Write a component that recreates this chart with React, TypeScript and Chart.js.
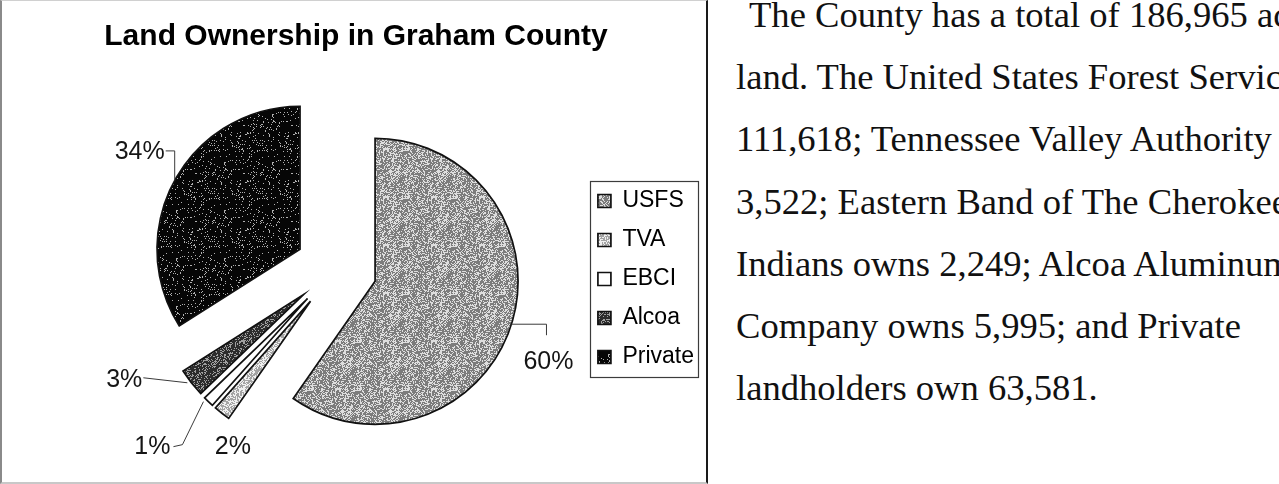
import React, { useEffect, useRef } from 'react';
import { Chart, ArcElement, PieController, registerables } from 'chart.js';

Chart.register(...registerables);

// ---------- data ----------
const chartTitle = 'Land Ownership in Graham County';
const categories = ['USFS', 'TVA', 'EBCI', 'Alcoa', 'Private'];
const acres = [111618, 3522, 2249, 5995, 63581];
const paragraphLines = [
  'The County has a total of 186,965 acres of',
  'land. The United States Forest Service owns',
  '111,618; Tennessee Valley Authority owns',
  '3,522; Eastern Band of The Cherokee',
  'Indians owns 2,249; Alcoa Aluminum',
  'Company owns 5,995; and Private',
  'landholders own 63,581.',
];

// ---------- styles ----------
// stipple textures: [base, dot, density]
const sliceTextures: [string, string, number][] = [
  ['#7c7c7c', '#dedede', 0.38],
  ['#a4a4a4', '#f0f0f0', 0.45],
  ['#ffffff', '#ffffff', 0],
  ['#2c2c2c', '#a0a0a0', 0.28],
  ['#060606', '#b0b0b0', 0.09],
];
// label placement relative to the outer mid point of each slice
const labelPlacement = [
  { dx: 37, dy: 38, align: 'center', leader: [[0, 0], [35, 0], [35, 11]] },
  { dx: 11, dy: 34, align: 'center', leader: [] },
  { dx: -38, dy: 45, align: 'right', leader: [[-5, 0], [-26, 43], [-35, 45]] },
  { dx: -49, dy: -3, align: 'right', leader: [[-4, 0], [-48, -5]] },
  { dx: -10, dy: -28, align: 'right', leader: [[0, 0], [0, -29.5], [-9, -29.5]] },
];

function grain(x: number, y: number): number {
  let h = (Math.imul(x, 374761393) + Math.imul(y, 668265263)) | 0;
  h = Math.imul(h ^ (h >>> 13), 1274126177);
  h = h ^ (h >>> 16);
  return (h >>> 0) / 4294967296;
}

function stipple(base: string, dot: string, density: number): CanvasPattern | string {
  if (density <= 0) return base;
  const n = 48;
  const c = document.createElement('canvas');
  c.width = n;
  c.height = n;
  const g = c.getContext('2d');
  if (!g) return base;
  g.fillStyle = base;
  g.fillRect(0, 0, n, n);
  g.fillStyle = dot;
  for (let y = 0; y < n; y++) {
    for (let x = 0; x < n; x++) {
      if (grain(x, y) < density) g.fillRect(x, y, 1, 1);
    }
  }
  return g.createPattern(c, 'repeat') || base;
}

// exploded pie: every slice pushed out along its mid angle by `offset`
class ExplodedArc extends ArcElement {
  static id = 'explodedArc';
  draw(ctx: CanvasRenderingContext2D) {
    const self: any = this;
    const o: any = self.options;
    const shift = o.offset || 0;
    const mid = (self.startAngle + self.endAngle) / 2;
    const cx = self.x + Math.cos(mid) * shift;
    const cy = self.y + Math.sin(mid) * shift;
    ctx.save();
    ctx.beginPath();
    ctx.moveTo(cx, cy);
    ctx.arc(cx, cy, self.outerRadius, self.startAngle, self.endAngle);
    ctx.closePath();
    ctx.fillStyle = o.backgroundColor;
    ctx.fill();
    if (o.borderWidth) {
      ctx.lineWidth = o.borderWidth;
      ctx.strokeStyle = o.borderColor;
      ctx.lineJoin = 'miter';
      ctx.stroke();
    }
    ctx.restore();
  }
}

class ExplodedPieController extends PieController {
  static id = 'explodedPie';
  static defaults = { ...(PieController as any).defaults, dataElementType: 'explodedArc' };
}

Chart.register(ExplodedArc as any, ExplodedPieController as any);

const pctLabels = {
  id: 'pctLabels',
  afterDatasetsDraw(chart: any) {
    const meta = chart.getDatasetMeta(0);
    const values: number[] = chart.data.datasets[0].data;
    const total = values.reduce((a, b) => a + b, 0);
    const ctx: CanvasRenderingContext2D = chart.ctx;
    ctx.save();
    ctx.strokeStyle = '#3a3a3a';
    ctx.lineWidth = 1;
    ctx.fillStyle = '#151515';
    ctx.font = '25px "Liberation Sans", Arial, sans-serif';
    ctx.textBaseline = 'middle';
    meta.data.forEach((arc: any, i: number) => {
      const off = arc.options.offset || 0;
      const mid = (arc.startAngle + arc.endAngle) / 2;
      const ax = arc.x + Math.cos(mid) * (off + arc.outerRadius);
      const ay = arc.y + Math.sin(mid) * (off + arc.outerRadius);
      const pl = labelPlacement[i];
      if (pl.leader.length) {
        ctx.beginPath();
        pl.leader.forEach((pt: number[], k: number) => {
          if (k === 0) ctx.moveTo(ax + pt[0], ay + pt[1]);
          else ctx.lineTo(ax + pt[0], ay + pt[1]);
        });
        ctx.stroke();
      }
      ctx.textAlign = pl.align as CanvasTextAlign;
      ctx.fillText(Math.round((values[i] / total) * 100) + '%', ax + pl.dx, ay + pl.dy);
    });
    ctx.restore();
  },
};

const legendFrame = {
  id: 'legendFrame',
  afterDraw(chart: any) {
    const hb = chart.legend && chart.legend.legendHitBoxes;
    if (!hb || !hb.length) return;
    const first = hb[0];
    const last = hb[hb.length - 1];
    const left = first.left - 8;
    const right = Math.max(...hb.map((h: any) => h.left + h.width)) + 4;
    const top = first.top + first.height / 2 - 20;
    const bottom = last.top + last.height / 2 + 20;
    const ctx: CanvasRenderingContext2D = chart.ctx;
    ctx.save();
    ctx.strokeStyle = '#3c3c3c';
    ctx.lineWidth = 1.2;
    ctx.strokeRect(Math.round(left) + 0.5, Math.round(top) + 0.5, Math.round(right - left), Math.round(bottom - top));
    ctx.restore();
  },
};

export default function App() {
  const canvasRef = useRef<HTMLCanvasElement | null>(null);

  useEffect(() => {
    if (!canvasRef.current) return;
    const fills = sliceTextures.map(([b, d, k]) => stipple(b, d, k));
    const chart = new Chart(canvasRef.current, {
      type: 'explodedPie' as any,
      data: {
        labels: categories,
        datasets: [
          {
            data: acres,
            backgroundColor: fills as any,
            borderColor: '#111111',
            borderWidth: 1.7,
            offset: 41,
            radius: 143,
          } as any,
        ],
      },
      options: {
        animation: false,
        responsive: true,
        maintainAspectRatio: false,
        events: [],
        layout: { padding: { left: 90, right: 0, top: 60, bottom: 6 } },
        plugins: {
          title: { display: false },
          tooltip: { enabled: false },
          legend: {
            position: 'right',
            align: 'center',
            title: { display: true, text: ' ', padding: 5, font: { size: 10, lineHeight: 1 } },
            labels: {
              boxWidth: 13,
              boxHeight: 13,
              padding: 16,
              color: '#000000',
              font: { family: '"Liberation Sans", Arial, sans-serif', size: 23 },
            },
          },
        },
      } as any,
      plugins: [pctLabels, legendFrame],
    });
    return () => chart.destroy();
  }, []);

  return (
    <div
      style={{
        position: 'absolute',
        left: 0,
        top: 0,
        width: 1279,
        height: 484,
        overflow: 'hidden',
        background: '#ffffff',
      }}
    >
      <div style={{ position: 'absolute', left: 0, top: 0, width: 704, height: 484 }}>
        <canvas ref={canvasRef} />
      </div>
      <div
        style={{
          position: 'absolute',
          left: 0,
          top: 0,
          width: 708,
          height: 484,
          boxSizing: 'border-box',
          borderLeft: '2px solid #8a8a8a',
          borderTop: '1px solid #d0d0d0',
          borderRight: '2px solid #1a1a1a',
          borderBottom: '2px solid #c8c8c8',
          pointerEvents: 'none',
        }}
      />
      <div
        style={{
          position: 'absolute',
          left: 0,
          top: 18,
          width: 712,
          textAlign: 'center',
          fontFamily: '"Liberation Sans", Arial, sans-serif',
          fontWeight: 'bold',
          fontSize: 30,
          lineHeight: '34px',
          color: '#000',
          whiteSpace: 'nowrap',
        }}
      >
        {chartTitle}
      </div>
      <div
        style={{
          position: 'absolute',
          left: 736,
          top: -16,
          fontFamily: '"Liberation Serif", "Times New Roman", serif',
          fontSize: 36.6,
          lineHeight: '62.17px',
          color: '#111',
          whiteSpace: 'nowrap',
        }}
      >
        {paragraphLines.map((line, i) => (
          <div key={i} style={{ paddingLeft: i === 0 ? 13 : 0 }}>
            {line}
          </div>
        ))}
      </div>
    </div>
  );
}
